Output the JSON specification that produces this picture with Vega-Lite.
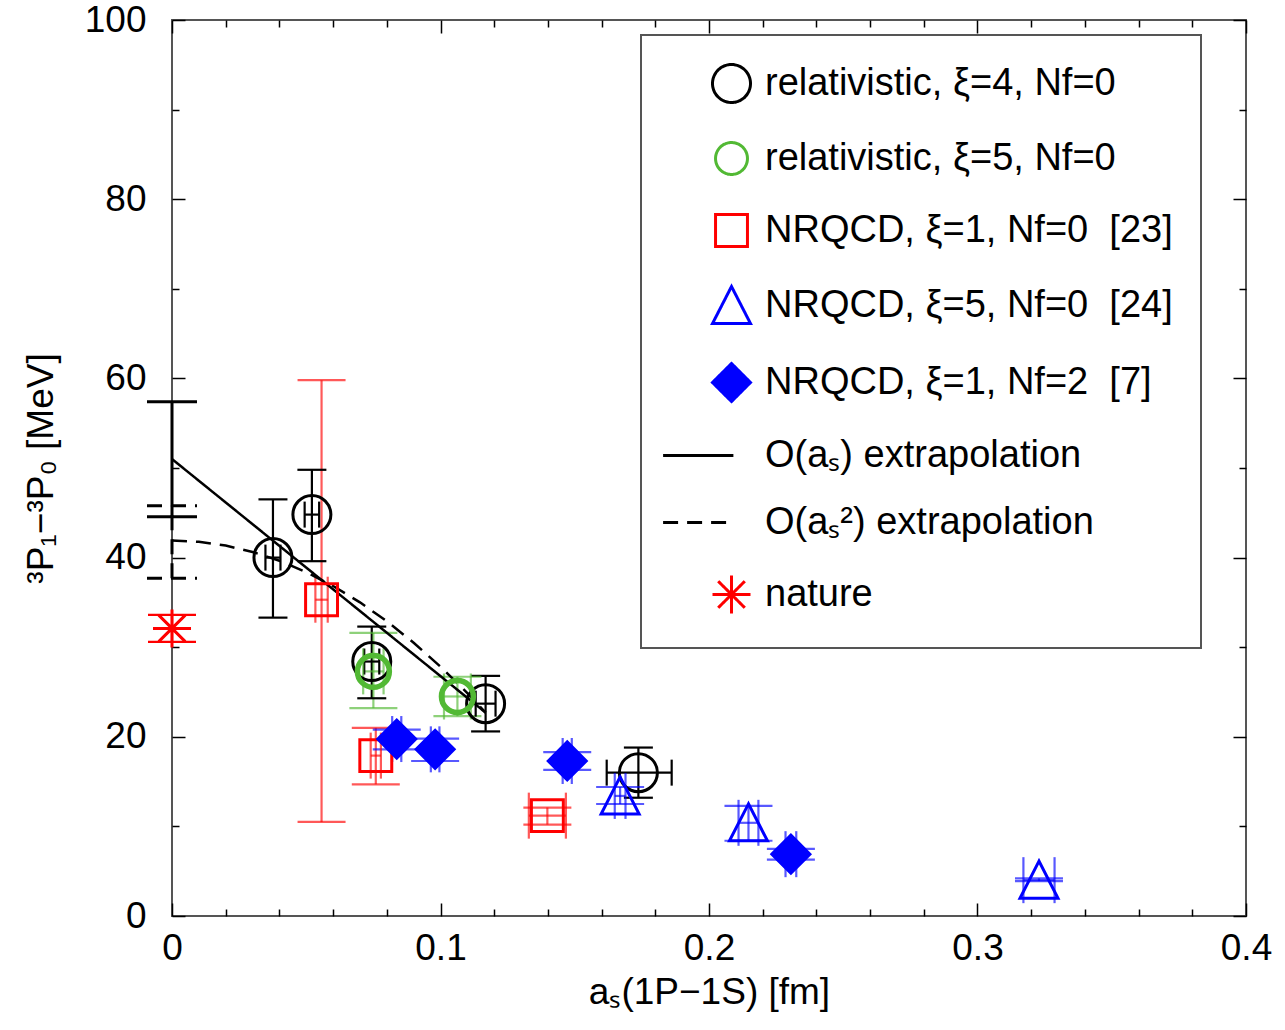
{
  "$schema": "https://vega.github.io/schema/vega-lite/v6.json",
  "width": 1074,
  "height": 896,
  "autosize": "none",
  "padding": {"left": 172, "top": 20, "right": 39, "bottom": 114},
  "config": {
    "font": "Liberation Sans",
    "view": {"stroke": "#555", "strokeWidth": 2},
    "axis": {"grid": false, "domain": false, "tickColor": "black", "tickWidth": 1.5, "labelFontSize": 37, "labelColor": "black", "titleFontSize": 37, "titleFontWeight": "normal", "titleColor": "black", "labelFont": "Liberation Sans", "titleFont": "Liberation Sans", "labelFlush": false, "labelOverlap": false},
    "legend": {"orient": "none", "legendX": 469, "legendY": 15, "padding": 28, "strokeColor": "#555", "strokeWidth": 2, "fillColor": "white", "labelFontSize": 38, "labelFont": "Liberation Sans", "labelColor": "black", "symbolSize": 1444, "symbolStrokeWidth": 3, "rowPadding": 27, "labelOffset": 13, "symbolOffset": 42, "labelLimit": 700, "cornerRadius": 0}
  },
  "datasets": {
    "pts": [
      {"s": "relativistic, ξ=4, Nf=0", "x": 0.0376, "y": 40.0, "xlo": 0.0348, "xhi": 0.0404, "ylo": 33.3, "yhi": 46.5},
      {"s": "relativistic, ξ=4, Nf=0", "x": 0.0521, "y": 44.8, "xlo": 0.0494, "xhi": 0.0548, "ylo": 39.6, "yhi": 49.8},
      {"s": "relativistic, ξ=4, Nf=0", "x": 0.0744, "y": 28.4, "xlo": 0.0716, "xhi": 0.0772, "ylo": 24.3, "yhi": 32.3},
      {"s": "relativistic, ξ=4, Nf=0", "x": 0.1168, "y": 23.7, "xlo": 0.1131, "xhi": 0.1205, "ylo": 20.6, "yhi": 26.8},
      {"s": "relativistic, ξ=4, Nf=0", "x": 0.1737, "y": 16.0, "xlo": 0.1619, "xhi": 0.1861, "ylo": 13.2, "yhi": 18.8},
      {"s": "relativistic, ξ=5, Nf=0", "x": 0.0750, "y": 27.3, "xlo": 0.0712, "xhi": 0.0788, "ylo": 23.2, "yhi": 31.6},
      {"s": "relativistic, ξ=5, Nf=0", "x": 0.1063, "y": 24.5, "xlo": 0.1013, "xhi": 0.1113, "ylo": 22.3, "yhi": 26.7},
      {"s": "NRQCD, ξ=1, Nf=0\u00a0\u00a0[23]", "x": 0.0557, "y": 35.3, "xlo": 0.0534, "xhi": 0.0580, "ylo": 10.5, "yhi": 59.8},
      {"s": "NRQCD, ξ=1, Nf=0\u00a0\u00a0[23]", "x": 0.0759, "y": 17.9, "xlo": 0.0740, "xhi": 0.0778, "ylo": 14.7, "yhi": 21.0},
      {"s": "NRQCD, ξ=1, Nf=0\u00a0\u00a0[23]", "x": 0.1398, "y": 11.2, "xlo": 0.1329, "xhi": 0.1467, "ylo": 10.2, "yhi": 12.1},
      {"s": "NRQCD, ξ=5, Nf=0\u00a0\u00a0[24]", "x": 0.1669, "y": 13.4, "xlo": 0.1649, "xhi": 0.1689, "ylo": 12.5, "yhi": 14.4},
      {"s": "NRQCD, ξ=5, Nf=0\u00a0\u00a0[24]", "x": 0.2147, "y": 10.4, "xlo": 0.2110, "xhi": 0.2184, "ylo": 8.4, "yhi": 12.3},
      {"s": "NRQCD, ξ=5, Nf=0\u00a0\u00a0[24]", "x": 0.3229, "y": 4.0, "xlo": 0.3171, "xhi": 0.3287, "ylo": 3.9, "yhi": 4.2},
      {"s": "NRQCD, ξ=1, Nf=2\u00a0\u00a0[7]", "x": 0.0837, "y": 19.75, "xlo": 0.0820, "xhi": 0.0854, "ylo": 18.6, "yhi": 20.8},
      {"s": "NRQCD, ξ=1, Nf=2\u00a0\u00a0[7]", "x": 0.0980, "y": 18.6, "xlo": 0.0964, "xhi": 0.0996, "ylo": 17.3, "yhi": 19.8},
      {"s": "NRQCD, ξ=1, Nf=2\u00a0\u00a0[7]", "x": 0.1472, "y": 17.3, "xlo": 0.1455, "xhi": 0.1489, "ylo": 16.3, "yhi": 18.3},
      {"s": "NRQCD, ξ=1, Nf=2\u00a0\u00a0[7]", "x": 0.2305, "y": 6.9, "xlo": 0.2285, "xhi": 0.2325, "ylo": 6.3, "yhi": 7.5},
      {"s": "nature", "x": 0, "y": 32.1, "ylo": 30.6, "yhi": 33.6}
    ],
    "lines": [
      {"s": "O(aₛ) extrapolation", "x": 0, "y": 51.0},
      {"s": "O(aₛ) extrapolation", "x": 0.1168, "y": 22.7},
      {"s": "O(aₛ²) extrapolation", "x": 0, "y": 41.9},
      {"s": "O(aₛ²) extrapolation", "x": 0.01, "y": 41.76},
      {"s": "O(aₛ²) extrapolation", "x": 0.02, "y": 41.34},
      {"s": "O(aₛ²) extrapolation", "x": 0.03, "y": 40.63},
      {"s": "O(aₛ²) extrapolation", "x": 0.04, "y": 39.65},
      {"s": "O(aₛ²) extrapolation", "x": 0.05, "y": 38.38},
      {"s": "O(aₛ²) extrapolation", "x": 0.06, "y": 36.83},
      {"s": "O(aₛ²) extrapolation", "x": 0.07, "y": 35.01},
      {"s": "O(aₛ²) extrapolation", "x": 0.08, "y": 32.90},
      {"s": "O(aₛ²) extrapolation", "x": 0.09, "y": 30.50},
      {"s": "O(aₛ²) extrapolation", "x": 0.10, "y": 27.83},
      {"s": "O(aₛ²) extrapolation", "x": 0.11, "y": 24.88},
      {"s": "O(aₛ²) extrapolation", "x": 0.1168, "y": 22.7}
    ],
    "ext": [
      {"s": "O(aₛ) extrapolation", "x": 0, "y": 51.0, "ylo": 44.55, "yhi": 57.4},
      {"s": "O(aₛ²) extrapolation", "x": 0, "y": 41.9, "ylo": 37.7, "yhi": 45.8}
    ]
  },
  "layer": [
    {
      "data": {"name": "pts"},
      "mark": {"type": "rule", "strokeWidth": 2.2},
      "encoding": {
        "x": {"field": "x", "type": "quantitative", "scale": {"domain": [0, 0.4]}, "axis": {"orient": "bottom", "values": [0, 0.1, 0.2, 0.3, 0.4], "tickSize": -13, "labelPadding": 27, "format": "~g", "title": "aₛ(1P−1S) [fm]", "titlePadding": 8}},
        "y": {"field": "ylo", "type": "quantitative", "scale": {"domain": [0, 100]}, "axis": {"orient": "left", "values": [0, 20, 40, 60, 80, 100], "tickSize": -13, "labelPadding": 39, "format": "d", "title": "³P₁−³P₀ [MeV]", "titlePadding": 24}},
        "y2": {"field": "yhi"},
        "color": {"field": "s", "type": "nominal", "scale": {"domain": ["relativistic, ξ=4, Nf=0", "relativistic, ξ=5, Nf=0", "NRQCD, ξ=1, Nf=0\u00a0\u00a0[23]", "NRQCD, ξ=5, Nf=0\u00a0\u00a0[24]", "NRQCD, ξ=1, Nf=2\u00a0\u00a0[7]", "O(aₛ) extrapolation", "O(aₛ²) extrapolation", "nature"], "range": ["#000000", "#52b934", "#ff0000", "#0000ff", "#0000ff", "#000000", "#000000", "#ff0000"]}, "legend": {"title": null}},
        "opacity": {"condition": {"test": "datum.s=='relativistic, ξ=4, Nf=0' || datum.s=='nature'", "value": 1}, "value": 0.65}
      }
    },
    {
      "data": {"name": "pts"},
      "mark": {"type": "rule", "strokeWidth": 2.2},
      "encoding": {
        "x": {"field": "xlo", "type": "quantitative", "scale": {"domain": [0, 0.4]}, "axis": {"orient": "bottom", "values": [0.02, 0.04, 0.06, 0.08, 0.12, 0.14, 0.16, 0.18, 0.22, 0.24, 0.26, 0.28, 0.32, 0.34, 0.36, 0.38], "tickSize": -7, "labels": false, "title": null}},
        "x2": {"field": "xhi"},
        "y": {"field": "y", "type": "quantitative", "scale": {"domain": [0, 100]}, "axis": {"orient": "left", "values": [10, 30, 50, 70, 90], "tickSize": -7, "labels": false, "title": null}},
        "color": {"field": "s", "type": "nominal", "legend": {"title": null}},
        "opacity": {"condition": {"test": "datum.s=='relativistic, ξ=4, Nf=0' || datum.s=='nature'", "value": 1}, "value": 0.65}
      }
    },
    {
      "data": {"name": "pts"},
      "mark": {"type": "point", "filled": false, "strokeWidth": 2.2, "shape": "M-1,0L1,0"},
      "encoding": {
        "x": {"field": "x", "type": "quantitative", "scale": {"domain": [0, 0.4]}, "axis": {"orient": "top", "values": [0, 0.1, 0.2, 0.3, 0.4], "tickSize": -13, "labels": false, "title": null}},
        "y": {"field": "yhi", "type": "quantitative", "scale": {"domain": [0, 100]}, "axis": {"orient": "right", "values": [0, 20, 40, 60, 80, 100], "tickSize": -13, "labels": false, "title": null}},
        "color": {"field": "s", "type": "nominal", "legend": {"title": null}},
        "size": {"condition": {"test": "datum.s=='relativistic, ξ=4, Nf=0'", "value": 841}, "value": 2304},
        "opacity": {"condition": {"test": "datum.s=='relativistic, ξ=4, Nf=0' || datum.s=='nature'", "value": 1}, "value": 0.65}
      }
    },
    {
      "data": {"name": "pts"},
      "mark": {"type": "point", "filled": false, "strokeWidth": 2.2, "shape": "M-1,0L1,0"},
      "encoding": {
        "x": {"field": "x", "type": "quantitative", "scale": {"domain": [0, 0.4]}, "axis": {"orient": "top", "values": [0.02, 0.04, 0.06, 0.08, 0.12, 0.14, 0.16, 0.18, 0.22, 0.24, 0.26, 0.28, 0.32, 0.34, 0.36, 0.38], "tickSize": -7, "labels": false, "title": null}},
        "y": {"field": "ylo", "type": "quantitative", "scale": {"domain": [0, 100]}, "axis": {"orient": "right", "values": [10, 30, 50, 70, 90], "tickSize": -7, "labels": false, "title": null}},
        "color": {"field": "s", "type": "nominal", "legend": {"title": null}},
        "size": {"condition": {"test": "datum.s=='relativistic, ξ=4, Nf=0'", "value": 841}, "value": 2304},
        "opacity": {"condition": {"test": "datum.s=='relativistic, ξ=4, Nf=0' || datum.s=='nature'", "value": 1}, "value": 0.65}
      }
    },
    {
      "data": {"name": "pts"},
      "mark": {"type": "point", "filled": false, "strokeWidth": 2.2, "shape": "M0,-1L0,1"},
      "encoding": {
        "x": {"field": "xlo", "type": "quantitative", "scale": {"domain": [0, 0.4]}, "axis": null},
        "y": {"field": "y", "type": "quantitative", "scale": {"domain": [0, 100]}, "axis": null},
        "color": {"field": "s", "type": "nominal", "legend": {"title": null}},
        "size": {"condition": {"test": "datum.s=='relativistic, ξ=4, Nf=0'", "value": 676}, "value": 2116},
        "opacity": {"condition": {"test": "datum.s=='relativistic, ξ=4, Nf=0' || datum.s=='nature'", "value": 1}, "value": 0.65}
      }
    },
    {
      "data": {"name": "pts"},
      "mark": {"type": "point", "filled": false, "strokeWidth": 2.2, "shape": "M0,-1L0,1"},
      "encoding": {
        "x": {"field": "xhi", "type": "quantitative", "scale": {"domain": [0, 0.4]}, "axis": null},
        "y": {"field": "y", "type": "quantitative", "scale": {"domain": [0, 100]}, "axis": null},
        "color": {"field": "s", "type": "nominal", "legend": {"title": null}},
        "size": {"condition": {"test": "datum.s=='relativistic, ξ=4, Nf=0'", "value": 676}, "value": 2116},
        "opacity": {"condition": {"test": "datum.s=='relativistic, ξ=4, Nf=0' || datum.s=='nature'", "value": 1}, "value": 0.65}
      }
    },
    {
      "data": {"name": "lines"},
      "mark": {"type": "line", "strokeWidth": 2.5},
      "encoding": {
        "x": {"field": "x", "type": "quantitative", "scale": {"domain": [0, 0.4]}, "axis": null},
        "y": {"field": "y", "type": "quantitative", "scale": {"domain": [0, 100]}, "axis": null},
        "color": {"field": "s", "type": "nominal", "legend": {"title": null}},
        "strokeDash": {"field": "s", "type": "nominal", "scale": {"domain": ["relativistic, ξ=4, Nf=0", "relativistic, ξ=5, Nf=0", "NRQCD, ξ=1, Nf=0\u00a0\u00a0[23]", "NRQCD, ξ=5, Nf=0\u00a0\u00a0[24]", "NRQCD, ξ=1, Nf=2\u00a0\u00a0[7]", "O(aₛ) extrapolation", "O(aₛ²) extrapolation", "nature"], "range": [[1, 0], [1, 0], [1, 0], [1, 0], [1, 0], [1, 0], [15, 9], [1, 0]]}, "legend": {"title": null}}
      }
    },
    {
      "data": {"name": "ext"},
      "mark": {"type": "rule", "strokeWidth": 3},
      "encoding": {
        "x": {"field": "x", "type": "quantitative", "scale": {"domain": [0, 0.4]}, "axis": null},
        "y": {"field": "ylo", "type": "quantitative", "scale": {"domain": [0, 100]}, "axis": null},
        "y2": {"field": "yhi"},
        "color": {"field": "s", "type": "nominal", "legend": {"title": null}},
        "strokeDash": {"field": "s", "type": "nominal", "legend": {"title": null}}
      }
    },
    {
      "data": {"name": "ext"},
      "mark": {"type": "point", "filled": false, "strokeWidth": 3, "opacity": 1, "size": 2500, "shape": "M-1,0L1,0"},
      "encoding": {
        "x": {"field": "x", "type": "quantitative", "scale": {"domain": [0, 0.4]}, "axis": null},
        "y": {"field": "ylo", "type": "quantitative", "scale": {"domain": [0, 100]}, "axis": null},
        "color": {"field": "s", "type": "nominal", "legend": {"title": null}},
        "strokeDash": {"field": "s", "type": "nominal", "legend": {"title": null}}
      }
    },
    {
      "data": {"name": "ext"},
      "mark": {"type": "point", "filled": false, "strokeWidth": 3, "opacity": 1, "size": 2500, "shape": "M-1,0L1,0"},
      "encoding": {
        "x": {"field": "x", "type": "quantitative", "scale": {"domain": [0, 0.4]}, "axis": null},
        "y": {"field": "yhi", "type": "quantitative", "scale": {"domain": [0, 100]}, "axis": null},
        "color": {"field": "s", "type": "nominal", "legend": {"title": null}},
        "strokeDash": {"field": "s", "type": "nominal", "legend": {"title": null}}
      }
    },
    {
      "data": {"name": "pts"},
      "mark": {"type": "point", "filled": false, "opacity": 1, "size": 1444, "strokeWidth": 3},
      "encoding": {
        "x": {"field": "x", "type": "quantitative", "scale": {"domain": [0, 0.4]}, "axis": null},
        "y": {"field": "y", "type": "quantitative", "scale": {"domain": [0, 100]}, "axis": null},
        "color": {"field": "s", "type": "nominal", "legend": {"title": null}},
        "fill": {"field": "s", "type": "nominal", "scale": {"domain": ["relativistic, ξ=4, Nf=0", "relativistic, ξ=5, Nf=0", "NRQCD, ξ=1, Nf=0\u00a0\u00a0[23]", "NRQCD, ξ=5, Nf=0\u00a0\u00a0[24]", "NRQCD, ξ=1, Nf=2\u00a0\u00a0[7]", "O(aₛ) extrapolation", "O(aₛ²) extrapolation", "nature"], "range": ["transparent", "transparent", "transparent", "transparent", "#0000ff", "transparent", "transparent", "transparent"]}, "legend": {"title": null}},
        "shape": {"field": "s", "type": "nominal", "scale": {"domain": ["relativistic, ξ=4, Nf=0", "relativistic, ξ=5, Nf=0", "NRQCD, ξ=1, Nf=0\u00a0\u00a0[23]", "NRQCD, ξ=5, Nf=0\u00a0\u00a0[24]", "NRQCD, ξ=1, Nf=2\u00a0\u00a0[7]", "O(aₛ) extrapolation", "O(aₛ²) extrapolation", "nature"], "range": ["circle", "M-0.84,0A0.84,0.84,0,1,0,0.84,0A0.84,0.84,0,1,0,-0.84,0Z", "M-0.84,-0.84L0.84,-0.84L0.84,0.84L-0.84,0.84Z", "M0,-1L-1,0.95L1,0.95Z", "diamond", "M-3.6,0L0.1,0", "M-3.6,0L0.1,0", "M-1,0L1,0M0,-1L0,1M-0.7,-0.7L0.7,0.7M-0.7,0.7L0.7,-0.7"]}, "legend": {"title": null}},
        "strokeWidth": {"condition": {"test": "datum.s=='relativistic, ξ=5, Nf=0'", "value": 5.5}, "value": 3}
      }
    }
  ],
  "resolve": {"axis": {"x": "independent", "y": "independent"}}
}
